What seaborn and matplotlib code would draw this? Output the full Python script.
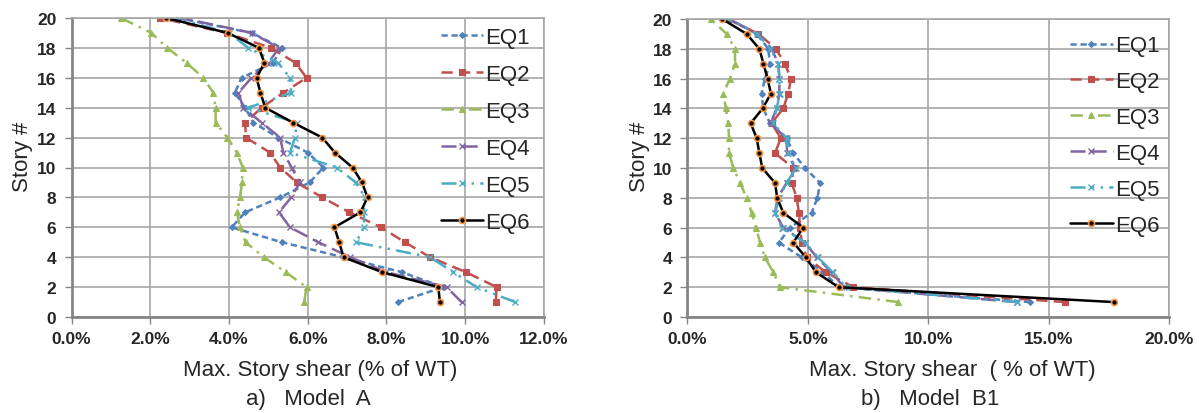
import numpy as np
import pandas as pd
import matplotlib
matplotlib.use("Agg")
import matplotlib.pyplot as plt
import seaborn as sns
from matplotlib.ticker import FuncFormatter, MultipleLocator

# ---------------- data (story 1 .. 20), values in % of WT ----------------
stories = list(range(1, 21))
series_names = ["EQ1", "EQ2", "EQ3", "EQ4", "EQ5", "EQ6"]

A_EQ1 = [8.30, 9.45, 8.39, 6.90, 5.34, 4.07, 4.41, 5.30, 6.05, 6.40, 6.00, 5.25, 4.62, 4.41, 4.15, 4.32, 5.12, 5.34, 4.58, 2.70]
A_EQ2 = [10.78, 10.80, 10.02, 9.11, 8.47, 7.86, 7.06, 6.37, 5.72, 5.30, 5.04, 4.43, 4.41, 4.83, 5.38, 5.97, 5.69, 5.07, 3.94, 2.25]
A_EQ3 = [5.91, 5.97, 5.44, 4.89, 4.42, 4.28, 4.20, 4.28, 4.33, 4.35, 4.20, 3.96, 3.66, 3.66, 3.60, 3.35, 2.92, 2.43, 2.03, 1.26]
A_EQ4 = [9.91, 9.53, 8.00, 7.08, 6.27, 5.55, 5.27, 5.58, 5.80, 5.59, 5.38, 5.30, 4.83, 4.36, 4.24, 4.57, 5.00, 5.27, 4.58, 2.80]
A_EQ5 = [11.27, 10.29, 9.70, 9.11, 7.23, 7.43, 7.43, 7.46, 7.22, 6.74, 5.55, 5.68, 5.72, 4.49, 5.58, 5.55, 5.25, 4.49, 4.00, 2.65]
A_EQ6 = [9.36, 9.32, 7.89, 6.91, 6.80, 6.68, 7.34, 7.52, 7.38, 7.14, 6.69, 6.37, 5.63, 4.92, 4.80, 4.70, 4.90, 4.76, 3.97, 2.40]

B_EQ1 = [14.22, 6.30, 5.64, 4.75, 3.80, 4.27, 5.16, 5.40, 5.51, 4.88, 4.40, 4.12, 3.43, 3.15, 3.08, 3.22, 3.43, 3.36, 2.88, 1.70]
B_EQ2 = [15.67, 6.89, 5.75, 4.95, 4.75, 4.68, 4.63, 4.54, 4.33, 4.40, 3.64, 3.88, 3.50, 3.98, 4.19, 4.30, 4.05, 3.68, 2.95, 1.70]
B_EQ3 = [8.76, 3.85, 3.57, 3.22, 3.02, 2.85, 2.67, 2.46, 2.19, 1.91, 1.73, 1.73, 1.70, 1.60, 1.49, 1.77, 1.98, 1.98, 1.63, 0.97]
B_EQ4 = [13.67, 6.50, 5.99, 5.37, 4.88, 3.98, 3.64, 3.75, 4.12, 4.47, 4.15, 4.10, 3.46, 3.71, 3.82, 3.82, 3.78, 3.50, 2.95, 1.70]
B_EQ5 = [13.70, 6.60, 6.03, 5.43, 4.88, 3.92, 3.64, 3.82, 4.12, 4.51, 4.19, 4.12, 3.57, 3.71, 3.84, 3.82, 3.78, 3.45, 2.90, 1.75]
B_EQ6 = [17.72, 6.28, 5.34, 4.92, 4.40, 4.81, 3.98, 3.73, 3.64, 3.11, 2.99, 2.88, 2.63, 3.13, 3.47, 3.33, 3.16, 2.99, 2.46, 1.45]

panel_A = [A_EQ1, A_EQ2, A_EQ3, A_EQ4, A_EQ5, A_EQ6]
panel_B = [B_EQ1, B_EQ2, B_EQ3, B_EQ4, B_EQ5, B_EQ6]

# ---------------- styles ----------------
styles = {
    "EQ1": dict(color="#4F81BD", linestyle=(0, (2.5, 1.5)), marker="D", markersize=3.0,
                markerfacecolor="#4F81BD", markeredgecolor="#4F81BD", markeredgewidth=0.8),
    "EQ2": dict(color="#C0504D", linestyle=(0, (4.5, 2.5)), marker="s", markersize=4.3,
                markerfacecolor="#C0504D", markeredgecolor="#C0504D", markeredgewidth=0.8),
    "EQ3": dict(color="#9BBB59", linestyle=(0, (5, 2.5, 1, 2.5)), marker="^", markersize=4.3,
                markerfacecolor="#9BBB59", markeredgecolor="#9BBB59", markeredgewidth=0.8),
    "EQ4": dict(color="#8064A2", linestyle=(0, (6, 2.5)), marker="x", markersize=4.2,
                markerfacecolor="#8064A2", markeredgecolor="#8064A2", markeredgewidth=1.0),
    "EQ5": dict(color="#4BACC6", linestyle=(0, (6, 2.5, 1, 2.5, 1, 2.5)), marker="x", markersize=4.2,
                markerfacecolor="#4BACC6", markeredgecolor="#4BACC6", markeredgewidth=1.0),
    "EQ6": dict(color="black", linestyle="-", marker="o", markersize=4.3,
                markerfacecolor="black", markeredgecolor="#F79646", markeredgewidth=1.2),
}

sns.set_style("white")
plt.rcParams["font.family"] = ["Liberation Sans", "DejaVu Sans"]

fig = plt.figure(figsize=(11.99, 4.14), dpi=100)
axA = fig.add_axes([71.6 / 1199, 1 - 318 / 414, (543.8 - 71.6) / 1199, (318 - 19) / 414])
axB = fig.add_axes([687.3 / 1199, 1 - 318 / 414, (1169.3 - 687.3) / 1199, (318 - 20) / 414])

pct_fmt = FuncFormatter(lambda v, p: f"{v:.1f}%")


def draw(ax, data, xmax, xstep, xlabel, xlabel_x, ylabel_x, legend_anchor, lspacing):
    for name, vals in zip(series_names, data):
        df = pd.DataFrame({"shear": vals, "story": stories})
        sns.lineplot(data=df, x="shear", y="story", ax=ax, sort=False, estimator=None,
                     orient="y", label=name, linewidth=1.8, **styles[name])
    ax.set_xlim(0, xmax)
    ax.set_ylim(0, 20)
    ax.xaxis.set_major_locator(MultipleLocator(xstep))
    ax.yaxis.set_major_locator(MultipleLocator(2))
    ax.xaxis.set_major_formatter(pct_fmt)
    ax.grid(True, color="#A6A6A6", linewidth=1.2)
    ax.set_axisbelow(True)
    for s in ["left", "bottom"]:
        ax.spines[s].set_color("#868686")
        ax.spines[s].set_linewidth(2.0)
    for s in ["top", "right"]:
        ax.spines[s].set_color("#A6A6A6")
        ax.spines[s].set_linewidth(1.2)
    ax.tick_params(axis="both", direction="out", length=5, width=1, color="#868686",
                   labelsize=12.5, left=True, bottom=True)
    ax.tick_params(axis="y", pad=6)
    ax.tick_params(axis="x", pad=5)
    for lab in ax.get_xticklabels() + ax.get_yticklabels():
        lab.set_fontweight("bold")
    ax.set_xlabel(xlabel, fontsize=16)
    ax.xaxis.set_label_coords(xlabel_x, -0.14)
    ax.set_ylabel("Story #", fontsize=16)
    ax.yaxis.set_label_coords(ylabel_x, 0.54)
    ax.legend(loc="upper right", bbox_to_anchor=legend_anchor, frameon=False, fontsize=16,
              handlelength=1.9, handletextpad=0.1, labelspacing=lspacing, borderaxespad=0.0)


draw(axA, panel_A, 12, 2, "Max. Story shear (% of WT)", 0.526, -0.082, (0.99, 1.0), 0.72)
draw(axB, panel_B, 20, 5, "Max. Story shear  ( % of WT)", 0.549, -0.077, (0.998, 0.975), 0.67)

fig.text(308 / 1199, 1 - 400 / 414, "a)   Model  A", ha="center", va="center", fontsize=16)
fig.text(930 / 1199, 1 - 400 / 414, "b)   Model  B1", ha="center", va="center", fontsize=16)

fig.savefig("out.png", dpi=100)
